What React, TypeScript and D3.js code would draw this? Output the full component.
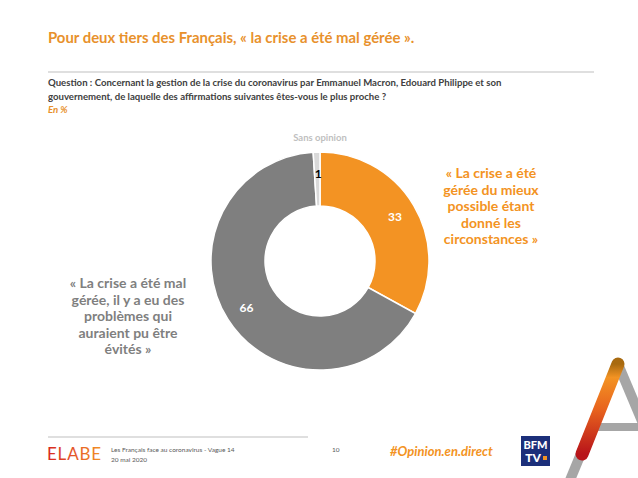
import * as d3 from "d3";

const categories = ["gérée du mieux possible", "mal gérée", "Sans opinion"];
const values = [33, 66, 1];
const colors = ["#F39323", "#7F7F7F", "#D9D9D9"];
const labelColors = ["#ffffff", "#ffffff", "#000000"];

const rightLines = ["« La crise a été", "gérée du mieux", "possible étant", "donné les", "circonstances »"];
const leftLines = ["« La crise a été mal", "gérée, il y a eu des", "problèmes qui", "auraient pu être", "évités »"];

const W = 638;
const H = 478;
const font = "Lato, 'Open Sans', sans-serif";

export default function App() {
  const cx = 320;
  const cy = 261;
  const outer = 109;
  const inner = 55;

  const pie = d3.pie<number>().sort(null).value((d) => d)(values);
  const arc = d3.arc<d3.PieArcDatum<number>>().innerRadius(inner).outerRadius(outer);
  const labelArc = d3.arc<d3.PieArcDatum<number>>().innerRadius(87).outerRadius(87);

  return (
    <svg width={W} height={H} style={{ position: "absolute", left: 0, top: 0, background: "#fff" }} fontFamily={font}>
      <defs>
        <linearGradient id="elabe" x1="0" x2="1" y1="0" y2="0">
          <stop offset="0" stopColor="#D7261E" />
          <stop offset="0.5" stopColor="#E4572A" />
          <stop offset="1" stopColor="#F39323" />
        </linearGradient>
        <linearGradient id="astroke" x1="0" x2="0" y1="1" y2="0">
          <stop offset="0" stopColor="#B8141A" />
          <stop offset="0.5" stopColor="#E8641E" />
          <stop offset="0.85" stopColor="#F39323" />
          <stop offset="1" stopColor="#A86A10" />
        </linearGradient>
      </defs>

      <text x={48} y={43} fontSize={14.9} fontWeight={700} fill="#E8912C">
        Pour deux tiers des Français, « la crise a été mal gérée ».
      </text>
      <line x1={48} x2={594} y1={72} y2={72} stroke="#BFBFBF" strokeWidth={1} />

      <text x={48} y={86} fontSize={9.6} fontWeight={700} fill="#404040">
        Question : Concernant la gestion de la crise du coronavirus par Emmanuel Macron, Edouard Philippe et son
      </text>
      <text x={48} y={100} fontSize={9.6} fontWeight={700} fill="#404040">
        gouvernement, de laquelle des affirmations suivantes êtes-vous le plus proche ?
      </text>
      <text x={48} y={113} fontSize={9.6} fontStyle="italic" fontWeight={700} fill="#E8912C">
        En %
      </text>

      <text x={cx} y={141} fontSize={9.5} textAnchor="middle" fill="#BFBFBF" fontWeight={700}>
        Sans opinion
      </text>

      <g transform={`translate(${cx},${cy})`}>
        {pie.map((p, i) => (
          <path key={categories[i]} d={arc(p) || ""} fill={colors[i]} stroke="#fff" strokeWidth={1.5} />
        ))}
        {pie.map((p, i) => {
          const [lx, ly] = labelArc.centroid(p);
          return (
            <text
              key={"l" + i}
              x={i === 2 ? lx + 1 : lx}
              y={ly}
              dy="0.35em"
              textAnchor="middle"
              fontSize={12}
              fontWeight={700}
              fill={labelColors[i]}
            >
              {values[i]}
            </text>
          );
        })}
      </g>

      {rightLines.map((t, i) => (
        <text key={t} x={491} y={178 + i * 16.6} textAnchor="middle" fontSize={14} fontWeight={700} fill="#F39323">
          {t}
        </text>
      ))}
      {leftLines.map((t, i) => (
        <text key={t} x={128} y={288 + i * 16.6} textAnchor="middle" fontSize={14} fontWeight={700} fill="#7F7F7F">
          {t}
        </text>
      ))}

      <line x1={48} x2={308} y1={437} y2={437} stroke="#BFBFBF" strokeWidth={1} />
      <text x={47} y={460} fontSize={17} fill="url(#elabe)" letterSpacing={0.8} fontWeight={400}>
        ELABE
      </text>
      <text x={111} y={452} fontSize={6.5} fill="#595959">
        Les Français face au coronavirus - Vague 14
      </text>
      <text x={111} y={462} fontSize={6.5} fill="#595959">
        20 mai 2020
      </text>
      <text x={332} y={452} fontSize={6.5} fill="#595959">
        10
      </text>
      <text x={390} y={456} fontSize={13} fontStyle="italic" fontWeight={700} fill="#F39323">
        #Opinion.en.direct
      </text>

      <rect x={521} y={436} width={29} height={30} fill="#1C2F7A" />
      <text x={535.5} y={449} textAnchor="middle" fontSize={11} fontWeight={900} fill="#fff">
        BFM
      </text>
      <text x={533} y={462} textAnchor="middle" fontSize={12} fontWeight={900} fill="#fff">
        TV
      </text>
      <rect x={543} y={456} width={4} height={4} fill="#F39323" />

      <line x1={568} x2={618} y1={485} y2={364} stroke="#A6A6A6" strokeWidth={10} />
      <line x1={618} x2={650} y1={364} y2={440} stroke="#A6A6A6" strokeWidth={10} />
      <line x1={590} x2={640} y1={427} y2={427} stroke="#A6A6A6" strokeWidth={8} />
      <line x1={582} x2={618} y1={454} y2={364} stroke="url(#astroke)" strokeWidth={13} strokeLinecap="round" />
    </svg>
  );
}
